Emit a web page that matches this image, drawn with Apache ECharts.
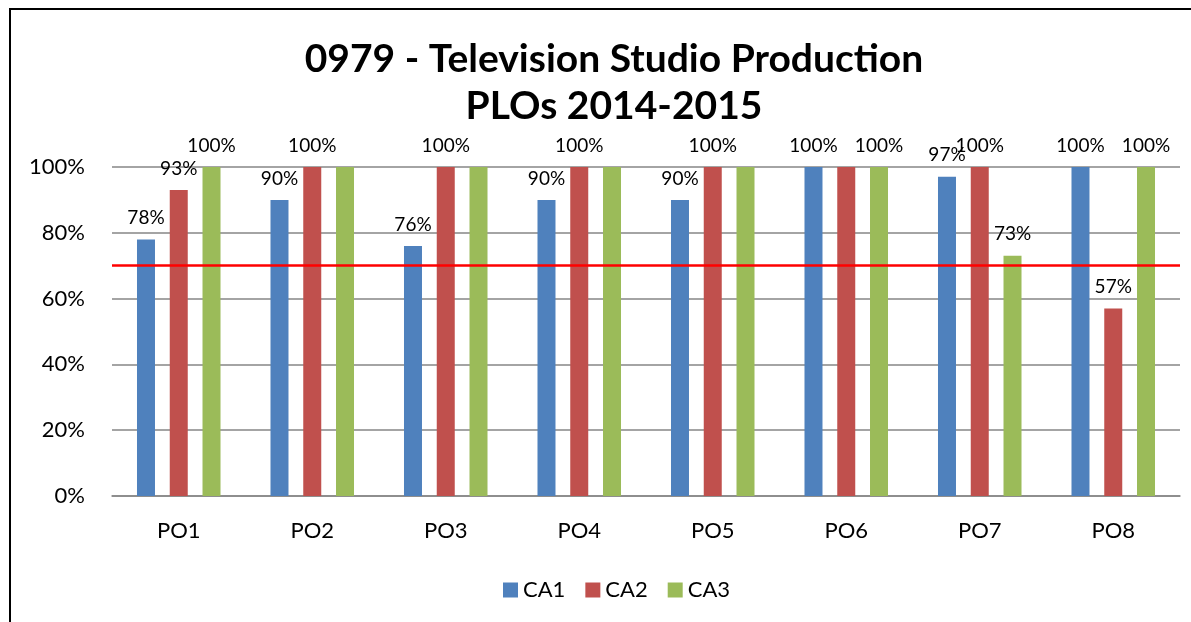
<!DOCTYPE html>
<html>
<head>
<meta charset="utf-8">
<script src="https://cdn.jsdelivr.net/npm/echarts@6/dist/echarts.min.js"></script>
<style>
	html, body { margin: 0; padding: 0; background: #fff; }
	#main { width: 1191px; height: 622px; }
</style>
</head>
<body>
<div id="main"></div>
<script>
var categories = ['PO1', 'PO2', 'PO3', 'PO4', 'PO5', 'PO6', 'PO7', 'PO8'];
var seriesNames = ['CA1', 'CA2', 'CA3'];
var ca1 = [78, 90, 76, 90, 90, 100, 97, 100];
var ca2 = [93, 100, 100, 100, 100, 100, 100, 57];
var ca3 = [100, 100, 100, 100, 100, 100, 73, 100];
var target = 70;
var yTicks = [0, 20, 40, 60, 80, 100];

var colors = ['#4F81BD', '#C0504D', '#9BBB59'];
var font = 'Lato';

// 同一组里跟前一个显示的标签数值相同时就不显示（原图的标签重叠被隐藏）
function buildSeries() {
	var all = [ca1, ca2, ca3];
	var shown = [[], [], []];
	var result = [];
	for (var s = 0; s < all.length; s++) {
		var data = [];
		for (var i = 0; i < categories.length; i++) {
			var show = true;
			if (s > 0 && shown[s - 1][i] && all[s - 1][i] === all[s][i]) {
				show = false;
			}
			shown[s][i] = show;
			data.push({ value: all[s][i], label: { show: show } });
		}
		var item = {
			name: seriesNames[s],
			type: 'bar',
			barWidth: 18,
			barGap: '82%',
			itemStyle: { color: colors[s] },
			label: {
				show: true,
				position: 'top',
				distance: 12,
				color: '#000',
				fontFamily: font,
				fontSize: 19,
				formatter: '{c}%'
			},
			data: data
		};
		if (s === 0) {
			item.markLine = {
				silent: true,
				symbol: 'none',
				label: { show: false },
				lineStyle: { color: '#FF0000', width: 2.5, type: 'solid' },
				data: [{ yAxis: target }]
			};
		}
		result.push(item);
	}
	return result;
}

var myChart = echarts.init(document.getElementById('main'));
var option = {
	backgroundColor: '#fff',
	animation: false,
	graphic: [{
		type: 'rect',
		shape: { x: 10, y: 9, width: 1300, height: 800 },
		style: { fill: 'none', stroke: '#000', lineWidth: 2 }
	}],
	title: {
		text: '0979 - Television Studio Production\nPLOs 2014-2015',
		left: 609,
		top: 31,
		textAlign: 'center',
		textStyle: {
			fontFamily: font,
			fontWeight: 'bold',
			fontSize: 39,
			lineHeight: 47,
			color: '#000'
		}
	},
	legend: {
		data: seriesNames,
		left: 498,
		top: 574,
		itemWidth: 15,
		itemHeight: 15,
		itemGap: 20,
		icon: 'rect',
		textStyle: { fontFamily: font, fontSize: 22, color: '#000' }
	},
	grid: {
		left: 112,
		right: 11,
		top: 167,
		bottom: 126,
		containLabel: false
	},
	xAxis: {
		type: 'category',
		data: categories,
		axisTick: { show: false },
		axisLine: { show: true, lineStyle: { color: '#868686', width: 1.5 } },
		axisLabel: { margin: 24, fontFamily: font, fontSize: 22, color: '#000' }
	},
	yAxis: {
		type: 'value',
		min: yTicks[0],
		max: yTicks[yTicks.length - 1],
		interval: 20,
		axisLine: { show: false },
		axisTick: { show: false },
		axisLabel: { margin: 27, fontFamily: font, fontSize: 22, color: '#000', formatter: '{value}%' },
		splitLine: { lineStyle: { color: '#868686', width: 1.5 } }
	},
	series: buildSeries()
};
myChart.setOption(option);
</script>
</body>
</html>
